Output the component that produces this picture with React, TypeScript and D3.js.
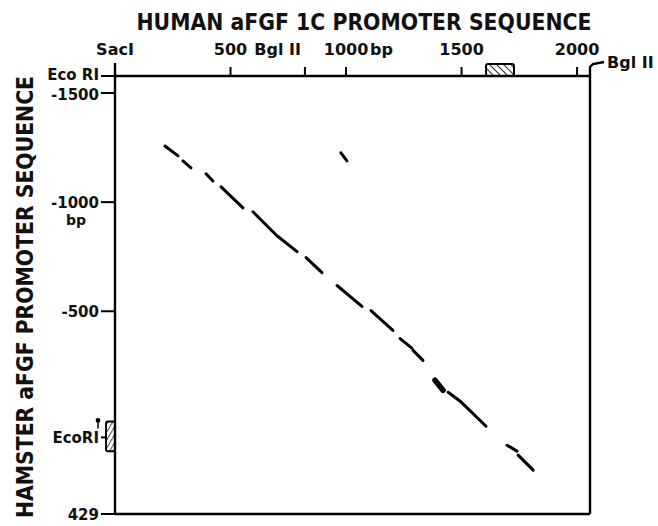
import React from "react";
import * as d3 from "d3";

// ---- data ----
const topTicks = [
  { v: 0, label: "SacI" },
  { v: 500, label: "500" },
  { v: 822, label: "Bgl II" },
  { v: 1000, label: "1000" },
  { v: 1500, label: "1500" },
  { v: 2000, label: "2000" },
];
const leftTicks = [
  { v: -1578, label: "Eco RI" },
  { v: -1500, label: "-1500" },
  { v: -1000, label: "-1000" },
  { v: -500, label: "-500" },
  { v: 78, label: "EcoRI" },
  { v: 429, label: "429" },
];
const humanBox = [1606, 1727];
const hamsterBox = [5, 142];
const xEnd = 2056;

// dot-plot similarity segments [humanBp, hamsterBp] polylines
const segments: number[][][] = [
  [[216, -1257], [273, -1212]],
  [[294, -1189], [329, -1157]],
  [[394, -1130], [424, -1097]],
  [[459, -1070], [554, -974]],
  [[597, -956], [701, -846], [788, -773]],
  [[827, -746], [896, -677]],
  [[961, -618], [1069, -522]],
  [[1108, -503], [1203, -412]],
  [[1234, -375], [1286, -330]],
  [[1290, -321], [1333, -275]],
  [[1442, -129], [1494, -88], [1606, 27]],
  [[1697, 114], [1740, 141]],
  [[1745, 159], [1810, 228]],
  [[978, -1226], [1004, -1189]],
];
const blobs: number[][][] = [[[1385, -184], [1420, -138]]];

export default function App() {
  const L = 115, R = 590, T = 76, B = 514;
  const x = d3.scaleLinear().domain([0, xEnd]).range([L, R]);
  const y = d3.scaleLinear().domain([-1578, 429]).range([T, B]);
  const line = d3.line<number[]>().x((d) => x(d[0])).y((d) => y(d[1]));
  const font = "'DejaVu Sans', sans-serif";
  const fs = 15;

  return (
    <svg width={658} height={526} style={{ position: "absolute", left: 0, top: 0, background: "#fff" }}>
      <defs>
        <pattern id="hatchA" width="5" height="5" patternUnits="userSpaceOnUse" patternTransform="rotate(-45)">
          <line x1="0" y1="0" x2="0" y2="5" stroke="#000" strokeWidth="1.6" />
        </pattern>
        <pattern id="hatchB" width="4" height="4" patternUnits="userSpaceOnUse" patternTransform="rotate(30)">
          <line x1="0" y1="0" x2="0" y2="4" stroke="#000" strokeWidth="1.4" />
        </pattern>
      </defs>
      {/* title */}
      <text x={364} y={30} textAnchor="middle" fontFamily={font} fontSize={23} fontWeight={600}
        textLength={455} lengthAdjust="spacingAndGlyphs" fill="#111">
        HUMAN aFGF 1C PROMOTER SEQUENCE
      </text>
      {/* y label */}
      <text transform={`translate(33,${(T + B) / 2 + 2}) rotate(-90)`} textAnchor="middle" fontFamily={font}
        fontSize={23} fontWeight={600} textLength={442} lengthAdjust="spacingAndGlyphs" fill="#111">
        HAMSTER aFGF PROMOTER SEQUENCE
      </text>

      {/* frame */}
      <g stroke="#000" strokeWidth={2.4} fill="none">
        <line x1={L} y1={T} x2={R} y2={T} />
        <line x1={L} y1={T - 13} x2={L} y2={B} />
        <line x1={L} y1={B} x2={R} y2={B} />
        <polyline points={`${R},${B} ${R},${T - 9} ${R + 3},${T - 12} ${R + 14},${T - 14}`} />
      </g>

      {/* top ticks */}
      {topTicks.map((t, i) => {
        const px = x(t.v);
        let anchor: "middle" | "end" = "middle";
        let tx = px;
        if (t.label === "Bgl II") { anchor = "end"; tx = px - 4; }
        return (
          <g key={i}>
            {t.v > 0 && <line x1={px} y1={T} x2={px} y2={T - 9} stroke="#000" strokeWidth={2} />}
            <text x={tx} y={55} textAnchor={anchor} fontFamily={font} fontSize={16} fontWeight="bold" fill="#111">
              {t.label}
            </text>
            {t.label === "1000" && (
              <text x={px + 24} y={55} fontFamily={font} fontSize={16} fontWeight="bold" fill="#111">bp</text>
            )}
          </g>
        );
      })}
      <text x={R + 17} y={68} fontFamily={font} fontSize={16} fontWeight="bold" fill="#111">Bgl II</text>

      {/* left ticks */}
      {leftTicks.map((t, i) => {
        const py = y(t.v);
        const inner = t.label === "EcoRI" ? L - 9 : L;
        const dy = i === 0 ? 4 : i === 1 ? 7 : 5.5;
        return (
          <g key={i}>
            <line x1={L - 14} y1={py} x2={i === 0 ? L + 3 : inner} y2={py} stroke="#000" strokeWidth={2} />
            <text x={L - 16} y={py + dy} textAnchor="end" fontFamily={font} fontSize={fs} fontWeight="bold" fill="#111">
              {t.label}
            </text>
            {t.label === "-1000" && (
              <text x={76} y={py + 23} textAnchor="middle" fontFamily={font} fontSize={14} fontWeight="bold" fill="#111">bp</text>
            )}
            {t.label === "EcoRI" && (
              <g stroke="#000" strokeWidth={1.5}>
                <line x1={L - 17} y1={py - 9} x2={L - 17} y2={py - 17} />
                <circle cx={L - 17} cy={py - 17} r={1.6} fill="#000" />
              </g>
            )}
          </g>
        );
      })}

      {/* hatched boxes */}
      <rect x={x(humanBox[0])} y={T - 12} width={x(humanBox[1]) - x(humanBox[0])} height={12} rx={2}
        fill="url(#hatchA)" stroke="#000" strokeWidth={2} />
      <rect x={L - 9} y={y(hamsterBox[0])} width={9} height={y(hamsterBox[1]) - y(hamsterBox[0])} rx={2}
        fill="url(#hatchB)" stroke="#000" strokeWidth={2} />

      {/* dot plot segments */}
      <g stroke="#000" fill="none" strokeLinecap="round" strokeLinejoin="round">
        {segments.map((s, i) => (
          <path key={i} d={line(s) || ""} strokeWidth={3} />
        ))}
        {blobs.map((s, i) => (
          <path key={"b" + i} d={line(s) || ""} strokeWidth={5.5} />
        ))}
      </g>
    </svg>
  );
}
